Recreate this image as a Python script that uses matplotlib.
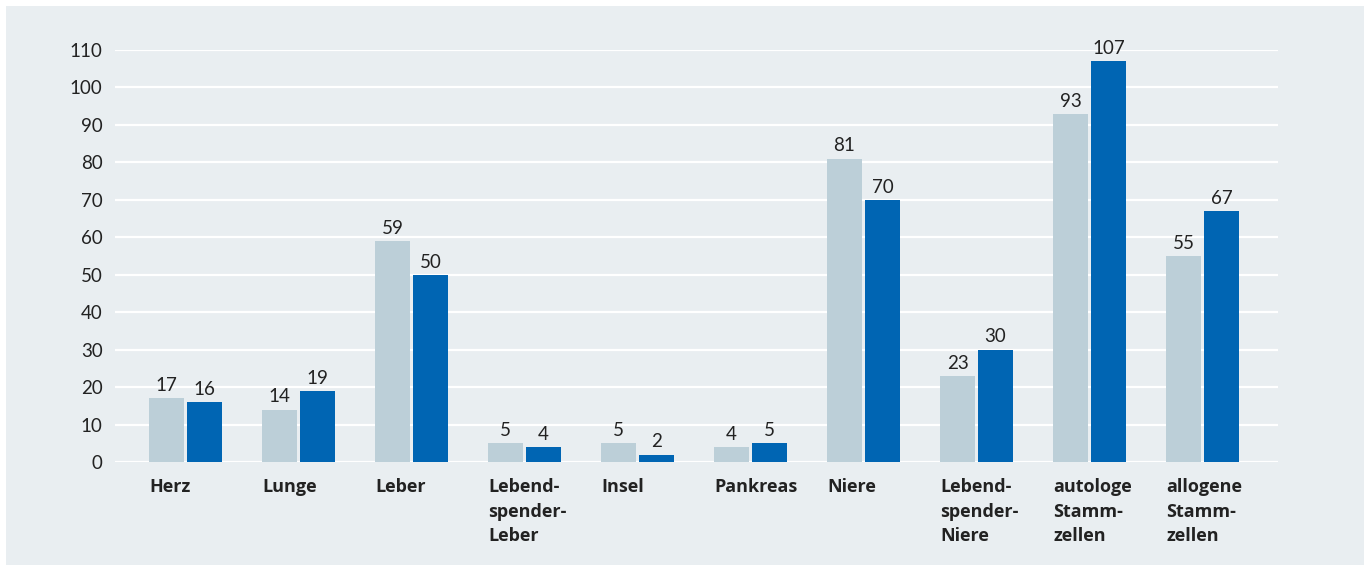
import numpy as np
import matplotlib.pyplot as plt
from matplotlib.patches import Rectangle
from matplotlib.transforms import blended_transform_factory

plt.rcParams['font.family'] = ['Lato', 'DejaVu Sans']

categories = ['Herz', 'Lunge', 'Leber', 'Lebend-\nspender-\nLeber', 'Insel', 'Pankreas',
              'Niere', 'Lebend-\nspender-\nNiere', 'autologe\nStamm-\nzellen', 'allogene\nStamm-\nzellen']
values_prev = [17, 14, 59, 5, 5, 4, 81, 23, 93, 55]
values_curr = [16, 19, 50, 4, 2, 5, 70, 30, 107, 67]
yticks = [0, 10, 20, 30, 40, 50, 60, 70, 80, 90, 100, 110]

bg = '#e9eef1'
light = '#bccfd8'
dark = '#0065b3'
txt = '#222222'

fig = plt.figure(figsize=(13.7, 5.66), dpi=100)
fig.patches.append(Rectangle((6/1370, 1/566), 1358/1370, 559/566, transform=fig.transFigure,
                             facecolor=bg, edgecolor='none', zorder=-10))
ax = fig.add_axes([115/1370, 104/566, 1163/1370, 412/566])
ax.set_facecolor('none')

x = np.arange(len(categories))
w = 0.31
off = 0.168
b1 = ax.bar(x - off, values_prev, w, color=light, zorder=3)
b2 = ax.bar(x + off, values_curr, w, color=dark, zorder=3)

for bars, vals in ((b1, values_prev), (b2, values_curr)):
    for b, v in zip(bars, vals):
        ax.annotate(str(v), (b.get_x() + b.get_width() / 2, v), xytext=(0, 3),
                    textcoords='offset points', ha='center', va='bottom',
                    fontsize=13.5, color=txt, clip_on=False)

trans = blended_transform_factory(ax.transData, ax.transAxes)
for i, c in enumerate(categories):
    ax.text(i - off - w / 2, -0.04, c, transform=trans, ha='left', va='top',
            fontsize=13, fontweight='bold', color=txt, linespacing=1.45,
            family=['Open Sans', 'DejaVu Sans'])

ax.set_xlim(-0.624, len(categories) - 1 + 0.668)
ax.set_ylim(0, 110)
ax.set_yticks(yticks)
ax.set_xticks([])
ax.yaxis.grid(True, color='white', lw=1.6, zorder=0)
ax.set_axisbelow(True)
ax.tick_params(axis='y', length=0, pad=9, labelsize=13.5, labelcolor=txt)
for s in ax.spines.values():
    s.set_visible(False)

fig.savefig('out.png', dpi=100)
